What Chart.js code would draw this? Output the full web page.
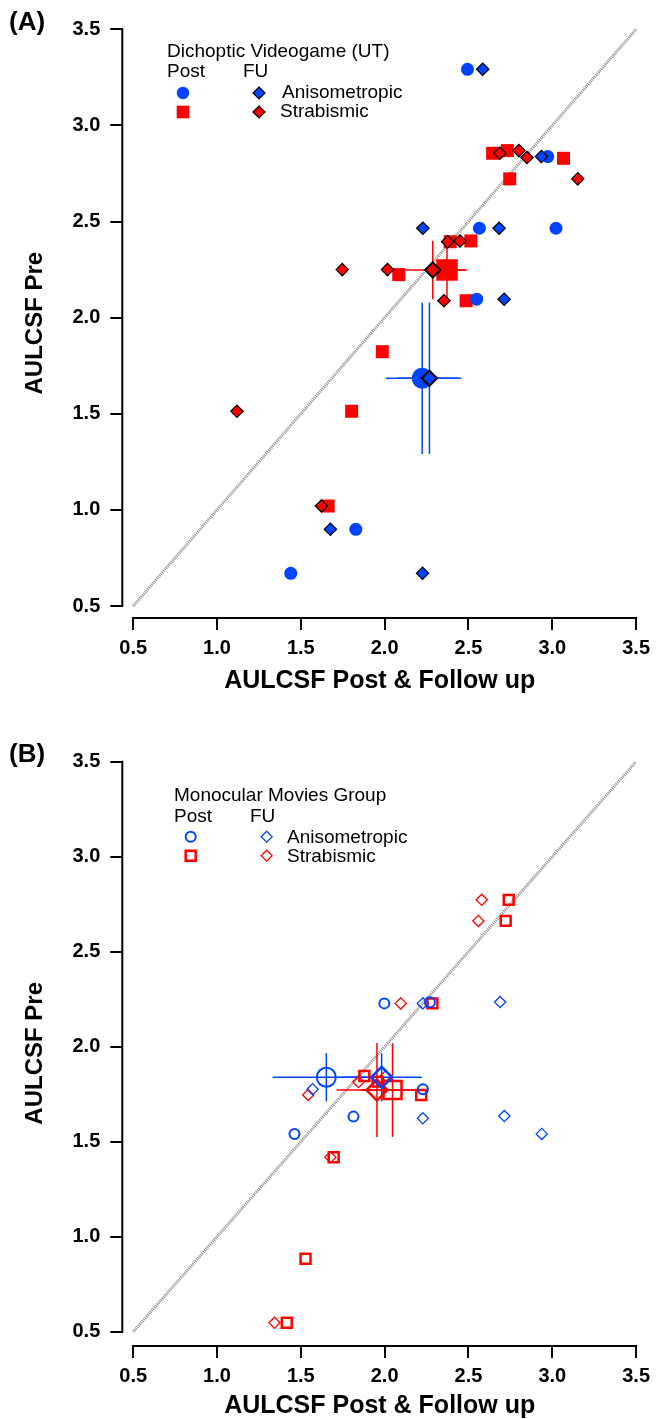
<!DOCTYPE html>
<html><head><meta charset="utf-8">
<script src="https://cdn.jsdelivr.net/npm/chart.js@4.4.1/dist/chart.umd.min.js"></script>
<style>
body{margin:0;background:#fff;}
#wrap{position:relative;width:658px;height:1419px;overflow:hidden;font-family:"Liberation Sans",Arial,Helvetica,sans-serif;color:#000;}
.t{position:absolute;white-space:nowrap;font-size:19px;line-height:19px;}
.p{position:absolute;white-space:nowrap;font-weight:bold;font-size:26px;line-height:26px;}
canvas{position:absolute;left:0;}
</style></head>
<body><div id="wrap">
<canvas id="cA" width="658" height="700" style="top:0"></canvas>
<canvas id="cB" width="658" height="719" style="top:700px"></canvas>
<div class="p" style="left:9px;top:8px">(A)</div>
<div class="t" style="left:167px;top:41px">Dichoptic Videogame (UT)</div>
<div class="t" style="left:167px;top:61px">Post</div>
<div class="t" style="left:243px;top:61px">FU</div>
<div class="t" style="left:282px;top:82px">Anisometropic</div>
<div class="t" style="left:280px;top:101px">Strabismic</div>
<div class="p" style="left:9px;top:740px">(B)</div>
<div class="t" style="left:174px;top:785px">Monocular Movies Group</div>
<div class="t" style="left:174px;top:806px">Post</div>
<div class="t" style="left:250px;top:806px">FU</div>
<div class="t" style="left:287px;top:827px">Anisometropic</div>
<div class="t" style="left:287px;top:846px">Strabismic</div>
</div>
<script>
// ---------- shared ----------
const tickValues = [0.5, 1.0, 1.5, 2.0, 2.5, 3.0, 3.5];
const diagX = [0.5, 3.5];
const diagY = [0.5, 3.5];
const xTitle = 'AULCSF Post & Follow up';
const yTitle = 'AULCSF Pre';

// ---------- Panel A: Dichoptic Videogame (UT) ----------
const aAnisoPostX = [2.494, 2.565, 3.022, 2.973, 2.549, 1.828, 1.440];
const aAnisoPostY = [3.292, 2.465, 2.465, 2.838, 2.096, 0.899, 0.670];
const aAnisoFUX   = [2.585, 2.228, 2.683, 2.935, 2.713, 1.676, 2.226];
const aAnisoFUY   = [3.292, 2.465, 2.465, 2.838, 2.096, 0.899, 0.670];
const aStrabPostX = [2.644, 2.732, 3.067, 2.746, 2.391, 2.514, 2.084, 2.486, 1.986, 1.803, 1.663];
const aStrabPostY = [2.855, 2.869, 2.829, 2.722, 2.395, 2.399, 2.224, 2.088, 1.823, 1.513, 1.020];
const aStrabFUX   = [2.687, 2.801, 2.849, 3.152, 2.376, 2.450, 1.747, 2.017, 2.354, 1.119, 1.623];
const aStrabFUY   = [2.855, 2.869, 2.833, 2.722, 2.395, 2.399, 2.250, 2.250, 2.088, 1.513, 1.020];
// group means: [aniso post, aniso FU, strab post, strab FU]
const aMeanX    = [2.224, 2.267, 2.372, 2.287];
const aMeanY    = [1.685, 1.685, 2.248, 2.248];
const aMeanErrX = [0.217, 0.190, 0.105, 0.205];
const aMeanErrY = [0.394, 0.394, 0.152, 0.152];

// ---------- Panel B: Monocular Movies Group ----------
const bAnisoPostX = [1.998, 2.270, 2.228, 1.814, 1.462];
const bAnisoPostY = [2.228, 2.234, 1.776, 1.632, 1.541];
const bAnisoFUX   = [2.228, 2.689, 1.570, 2.228, 2.714, 2.937];
const bAnisoFUY   = [2.228, 2.235, 1.776, 1.623, 1.635, 1.541];
const bStrabPostX = [2.740, 2.722, 2.285, 1.879, 1.958, 2.218, 1.696, 1.528, 1.416];
const bStrabPostY = [2.773, 2.662, 2.228, 1.846, 1.816, 1.746, 1.418, 0.884, 0.547];
const bStrabFUX   = [2.579, 2.559, 2.096, 1.844, 2.007, 1.544, 1.676, 1.343];
const bStrabFUY   = [2.773, 2.662, 2.228, 1.814, 1.846, 1.746, 1.418, 0.547];
const bMeanX    = [1.652, 1.982, 2.047, 1.954];
const bMeanY    = [1.839, 1.839, 1.772, 1.772];
const bMeanErrX = [0.320, 0.240, 0.190, 0.240];
const bMeanErrY = [0.127, 0.127, 0.247, 0.247];

// ---------- styling ----------
const BLUE = '#0044ff', RED = '#ff0000', BLACK = '#000000', NONE = 'rgba(0,0,0,0)';
const FONT = '"Liberation Sans", Arial, Helvetica, sans-serif';
const pts = (xs, ys) => xs.map((x, i) => ({x: x, y: ys[i]}));

function markerSets(filled, groups, means) {
  const st = filled ? [
    {ps:'circle',  r:6.5, bg:BLUE, bc:BLUE,  bw:0},
    {ps:'rectRot', r:6.2, bg:BLUE, bc:BLACK, bw:1.2},
    {ps:'rect',    r:9.2, bg:RED,  bc:RED,   bw:0},
    {ps:'rectRot', r:6.2, bg:RED,  bc:BLACK, bw:1.2}
  ] : [
    {ps:'circle',  r:5.0, bg:NONE, bc:BLUE, bw:2},
    {ps:'rectRot', r:5.6, bg:NONE, bc:BLUE, bw:1.3},
    {ps:'rect',    r:7.0, bg:NONE, bc:RED,  bw:2.5},
    {ps:'rectRot', r:5.6, bg:NONE, bc:RED,  bw:1.3}
  ];
  const mst = filled ? [
    {ps:'circle',  r:10.5, bg:BLUE, bc:BLUE,  bw:0},
    {ps:'rectRot', r:7.6,  bg:BLUE, bc:BLACK, bw:2},
    {ps:'rect',    r:15.2, bg:RED,  bc:RED,   bw:0},
    {ps:'rectRot', r:7.6,  bg:RED,  bc:BLACK, bw:2}
  ] : [
    {ps:'circle',  r:9.5,  bg:NONE, bc:BLUE, bw:2},
    {ps:'rectRot', r:10.5, bg:NONE, bc:BLUE, bw:2.5},
    {ps:'rect',    r:12.7, bg:NONE, bc:RED,  bw:2.5},
    {ps:'rectRot', r:10.5, bg:NONE, bc:RED,  bw:2.5}
  ];
  const ds = [];
  const postOrder = [4, 3, 4, 3];
  groups.forEach((g, i) => {
    ds.push({data: g, pointStyle: st[i].ps, pointRadius: st[i].r, backgroundColor: st[i].bg,
      borderColor: st[i].bc, borderWidth: st[i].bw, showLine: false, order: postOrder[i], clip: false});
  });
  const cols = [BLUE, BLUE, RED, RED];
  means.x.forEach((mx, i) => {
    const my = means.y[i], ex = means.ex[i], ey = means.ey[i];
    ds.push({type:'line', data:[{x:mx-ex, y:my}, {x:mx+ex, y:my}], borderColor: cols[i], borderWidth:1.5,
      pointRadius:0, order:5, clip:false});
    ds.push({type:'line', data:[{x:mx, y:my-ey}, {x:mx, y:my+ey}], borderColor: cols[i], borderWidth:1.5,
      pointRadius:0, order:5, clip:false});
    ds.push({data:[{x:mx, y:my}], pointStyle: mst[i].ps, pointRadius: mst[i].r, backgroundColor: mst[i].bg,
      borderColor: mst[i].bc, borderWidth: mst[i].bw, showLine:false, order: (i % 2 === 0) ? 1 : 0, clip:false});
  });
  ds.push({type:'line', data: pts(diagX, diagY), borderColor:'#8a8a8a', borderWidth:3, borderDash:[1,1],
    pointRadius:0, order:9, clip:false});
  return ds;
}

function drawMark(ctx, m) {
  ctx.save();
  ctx.beginPath();
  if (m.s === 'circle') ctx.arc(m.x, m.y, m.r, 0, Math.PI * 2);
  else if (m.s === 'rect') ctx.rect(m.x - m.r, m.y - m.r, 2 * m.r, 2 * m.r);
  else { ctx.moveTo(m.x, m.y - m.r); ctx.lineTo(m.x + m.r, m.y); ctx.lineTo(m.x, m.y + m.r); ctx.lineTo(m.x - m.r, m.y); ctx.closePath(); }
  if (m.fill) { ctx.fillStyle = m.fill; ctx.fill(); }
  if (m.stroke) { ctx.strokeStyle = m.stroke; ctx.lineWidth = m.lw; ctx.stroke(); }
  ctx.restore();
}

const decorPlugin = {
  id: 'decor',
  afterDraw(chart, args, opts) {
    const ctx = chart.ctx, xs = chart.scales.x, ys = chart.scales.y;
    ctx.save();
    ctx.strokeStyle = '#000'; ctx.lineWidth = 2;
    const x0 = xs.getPixelForValue(tickValues[0]), x1 = xs.getPixelForValue(tickValues[tickValues.length - 1]);
    const y0 = ys.getPixelForValue(tickValues[0]), y1 = ys.getPixelForValue(tickValues[tickValues.length - 1]);
    const ab = chart.chartArea;
    ctx.beginPath(); ctx.moveTo(x0 - 1, ab.bottom + 1); ctx.lineTo(x1 + 1, ab.bottom + 1); ctx.stroke();
    ctx.beginPath(); ctx.moveTo(ab.left - 1, y0 + 1); ctx.lineTo(ab.left - 1, y1 - 1); ctx.stroke();
    ctx.restore();
    (opts.marks || []).forEach(m => drawMark(ctx, m));
  }
};

function makeChart(id, o) {
  const tickFont = {family: FONT, size: 20, weight: 'bold', lineHeight: 1};
  const xTitleFont = {family: FONT, size: 25, weight: 'bold', lineHeight: 1};
  const yTitleFont = {family: FONT, size: 24, weight: 'bold', lineHeight: 1};
  const grid = {display: true, drawOnChartArea: false, drawTicks: true, tickLength: 13, color: '#000', lineWidth: 2};
  return new Chart(document.getElementById(id), {
    type: 'scatter',
    data: {datasets: o.datasets},
    options: {
      responsive: false, animation: false, events: [],
      layout: {padding: {left: 0, right: 17, top: o.padTop, bottom: 0}},
      plugins: {legend: {display: false}, tooltip: {enabled: false}, decor: {marks: o.marks}},
      scales: {
        x: {type: 'linear', position: 'bottom', min: o.xMin, max: 3.5,
          afterBuildTicks: s => { s.ticks = tickValues.map(v => ({value: v})); },
          afterFit: s => { s.height = o.xH; },
          grid: grid, border: {display: false},
          ticks: {font: tickFont, color: '#000', padding: 8, autoSkip: false, maxRotation: 0,
            callback: v => Number(v).toFixed(1)},
          title: {display: true, text: xTitle, color: '#000', font: xTitleFont, padding: {top: 0, bottom: o.xTitlePad}}
        },
        y: {type: 'linear', position: 'left', min: o.yMin, max: 3.5,
          afterBuildTicks: s => { s.ticks = tickValues.map(v => ({value: v})); },
          afterFit: s => { s.width = 123.3; },
          grid: grid, border: {display: false},
          ticks: {font: tickFont, color: '#000', padding: 10, autoSkip: false,
            callback: v => Number(v).toFixed(1)},
          title: {display: true, text: yTitle, color: '#000', font: yTitleFont, padding: {top: 23, bottom: 0}}
        }
      }
    },
    plugins: [decorPlugin]
  });
}

makeChart('cA', {
  datasets: markerSets(true,
    [pts(aAnisoPostX, aAnisoPostY), pts(aAnisoFUX, aAnisoFUY), pts(aStrabPostX, aStrabPostY), pts(aStrabFUX, aStrabFUY)],
    {x: aMeanX, y: aMeanY, ex: aMeanErrX, ey: aMeanErrY}),
  padTop: 29.3, xMin: 0.4409, yMin: 0.4428, xH: 83, xTitlePad: 6.5,
  marks: [
    {s:'circle', x:183, y:93, r:6.2, fill:BLUE},
    {s:'rect', x:183, y:112, r:6.3, fill:RED},
    {s:'diamond', x:259, y:93, r:6, fill:BLUE, stroke:BLACK, lw:1.2},
    {s:'diamond', x:259, y:112, r:6, fill:RED, stroke:BLACK, lw:1.2}
  ]
});

makeChart('cB', {
  datasets: markerSets(false,
    [pts(bAnisoPostX, bAnisoPostY), pts(bAnisoFUX, bAnisoFUY), pts(bStrabPostX, bStrabPostY), pts(bStrabFUX, bStrabFUY)],
    {x: bMeanX, y: bMeanY, ex: bMeanErrX, ey: bMeanErrY}),
  padTop: 61.7, xMin: 0.4409, yMin: 0.43, xH: 74, xTitlePad: 0,
  marks: [
    {s:'circle', x:190.7, y:136.7, r:5, stroke:BLUE, lw:2},
    {s:'rect', x:190.7, y:155.7, r:5, stroke:RED, lw:2.5},
    {s:'diamond', x:266.7, y:136.7, r:5.5, stroke:BLUE, lw:1.3},
    {s:'diamond', x:266.7, y:155.7, r:5.5, stroke:RED, lw:1.3}
  ]
});
</script>
</body></html>
